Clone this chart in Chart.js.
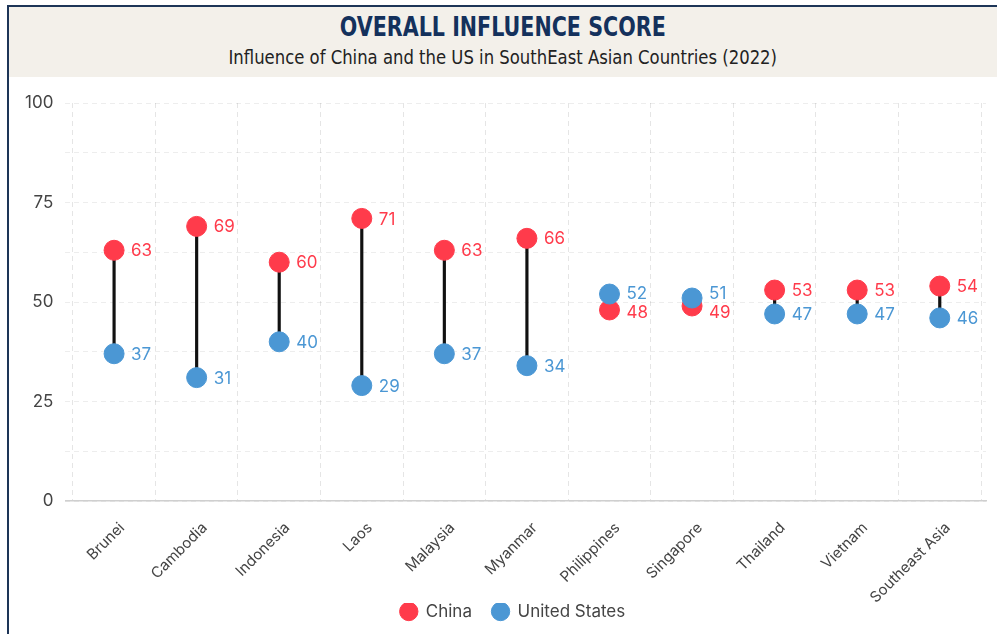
<!DOCTYPE html>
<html>
<head>
<meta charset="utf-8">
<script src="https://cdn.jsdelivr.net/npm/chart.js@4/dist/chart.umd.min.js"></script>
<style>
  html, body { margin: 0; padding: 0; background: #fff; }
  body { width: 997px; height: 634px; position: relative; overflow: hidden; }
  .frame { position: absolute; left: 7px; top: 5px; right: 0; bottom: 0; border-left: 2px solid #1d3557; border-top: 2px solid #1d3557; }
  .header { position: absolute; left: 9px; top: 7px; right: 0; height: 70px; background: #f3f0ea; }
  .line { position: absolute; left: 0; right: 0; text-align: center; font-family: "DejaVu Sans Condensed", sans-serif; white-space: nowrap; }
  .line span { display: inline-block; }
  .title { top: 4px; }
  .title span { font-weight: bold; font-size: 27px; color: #14315c; transform: scaleX(0.85); }
  .subtitle { top: 38px; }
  .subtitle span { font-size: 20px; color: #222; transform: scaleX(0.915); }
  .chart-box { position: absolute; left: 10px; top: 77px; width: 987px; height: 557px; }
</style>
</head>
<body>
<div class="frame"></div>
<div class="header">
  <div class="line title"><span>OVERALL INFLUENCE SCORE</span></div>
  <div class="line subtitle"><span>Influence of China and the US in SouthEast Asian Countries (2022)</span></div>
</div>
<div class="chart-box"><canvas id="chart"></canvas></div>
<script>
const countries = ['Brunei', 'Cambodia', 'Indonesia', 'Laos', 'Malaysia', 'Myanmar',
  'Philippines', 'Singapore', 'Thailand', 'Vietnam', 'Southeast Asia'];
const chinaScores = [63, 69, 60, 71, 63, 66, 48, 49, 53, 53, 54];
const usScores = [37, 31, 40, 29, 37, 34, 52, 51, 47, 47, 46];

const chinaColor = '#ff3b4b';
const usColor = '#4b97d4';

// value labels right of each point; pushed apart when the two points nearly touch
const valueLabels = {
  id: 'valueLabels',
  afterDatasetsDraw(chart) {
    const ctx = chart.ctx;
    const usMeta = chart.getDatasetMeta(0);
    const cnMeta = chart.getDatasetMeta(1);
    ctx.save();
    ctx.font = '17px Inter, sans-serif';
    ctx.textBaseline = 'middle';
    ctx.textAlign = 'left';
    countries.forEach((_, i) => {
      const u = usMeta.data[i], c = cnMeta.data[i];
      let uy = u.y, cy = c.y;
      const minGap = 19;
      if (Math.abs(uy - cy) < minGap) {
        const mid = (uy + cy) / 2;
        const sign = uy < cy ? -1 : 1;
        uy = mid + sign * minGap / 2;
        cy = mid - sign * minGap / 2;
      }
      ctx.fillStyle = usColor;
      ctx.fillText(usScores[i], u.x + 17, uy + 1);
      ctx.fillStyle = chinaColor;
      ctx.fillText(chinaScores[i], c.x + 17, cy + 1);
    });
    ctx.restore();
  }
};

new Chart(document.getElementById('chart'), {
  data: {
    datasets: [
      {
        type: 'scatter',
        label: 'United States',
        data: usScores.map((v, i) => ({ x: i, y: v })),
        backgroundColor: usColor,
        borderColor: usColor,
        pointRadius: 10,
        pointHoverRadius: 10,
        order: 0
      },
      {
        type: 'scatter',
        label: 'China',
        data: chinaScores.map((v, i) => ({ x: i, y: v })),
        backgroundColor: chinaColor,
        borderColor: chinaColor,
        pointRadius: 10,
        pointHoverRadius: 10,
        order: 1
      },
      {
        type: 'bar',
        label: 'gap',
        data: chinaScores.map((v, i) => ({ x: i, y: [usScores[i], v] })),
        backgroundColor: '#111',
        barThickness: 2.5,
        order: 2
      }
    ]
  },
  options: {
    responsive: true,
    maintainAspectRatio: false,
    animation: false,
    layout: { padding: { top: 26, left: 3, right: 10, bottom: 4 } },
    scales: {
      x: {
        type: 'linear',
        min: -0.59,
        max: 10.56,
        offset: false,
        afterBuildTicks: (scale) => {
          scale.ticks = countries.map((_, i) => ({ value: i }));
        },
        afterFit: (scale) => { scale.height = 102; },
        grid: { color: 'rgba(0,0,0,0.10)', drawTicks: false },
        border: { display: true, color: '#cfcfcf', width: 1.5, dash: [5, 4] },
        ticks: {
          callback: (v) => countries[v],
          autoSkip: false,
          minRotation: 45,
          maxRotation: 45,
          padding: 18,
          labelOffset: 8,
          color: '#444',
          font: { family: 'Inter, sans-serif', size: 15 }
        }
      },
      y: {
        min: 0,
        max: 100,
        grid: { color: 'rgba(0,0,0,0.07)', drawTicks: false },
        border: { display: false, dash: [5, 4] },
        ticks: {
          stepSize: 12.5,
          padding: 12,
          color: '#444',
          font: { family: 'Inter, sans-serif', size: 17 },
          callback: (v) => (v % 25 === 0 ? v : '')
        }
      }
    },
    plugins: {
      legend: {
        position: 'bottom',
        labels: {
          usePointStyle: true,
          pointStyle: 'circle',
          boxHeight: 13,
          boxWidth: 17,
          padding: 0,
          color: '#444',
          font: { family: 'Inter, sans-serif', size: 17 },
          generateLabels: (chart) => {
            const items = Chart.defaults.plugins.legend.labels.generateLabels(chart)
              .filter((item) => item.datasetIndex !== 2)
              .sort((a, b) => b.datasetIndex - a.datasetIndex);
            // gap after China (labels.padding stays 0 to keep the legend short)
            items[0].text += '\u2003\u2009';
            // empty transparent spacer nudges the centred legend a little to the right
            const spacer = { text: '', fillStyle: 'transparent', strokeStyle: 'transparent',
              lineWidth: 0, pointStyle: 'circle', hidden: false, datasetIndex: -1 };
            return [spacer, ...items];
          }
        }
      },
      tooltip: { enabled: false }
    }
  },
  plugins: [valueLabels]
});
</script>
</body>
</html>
